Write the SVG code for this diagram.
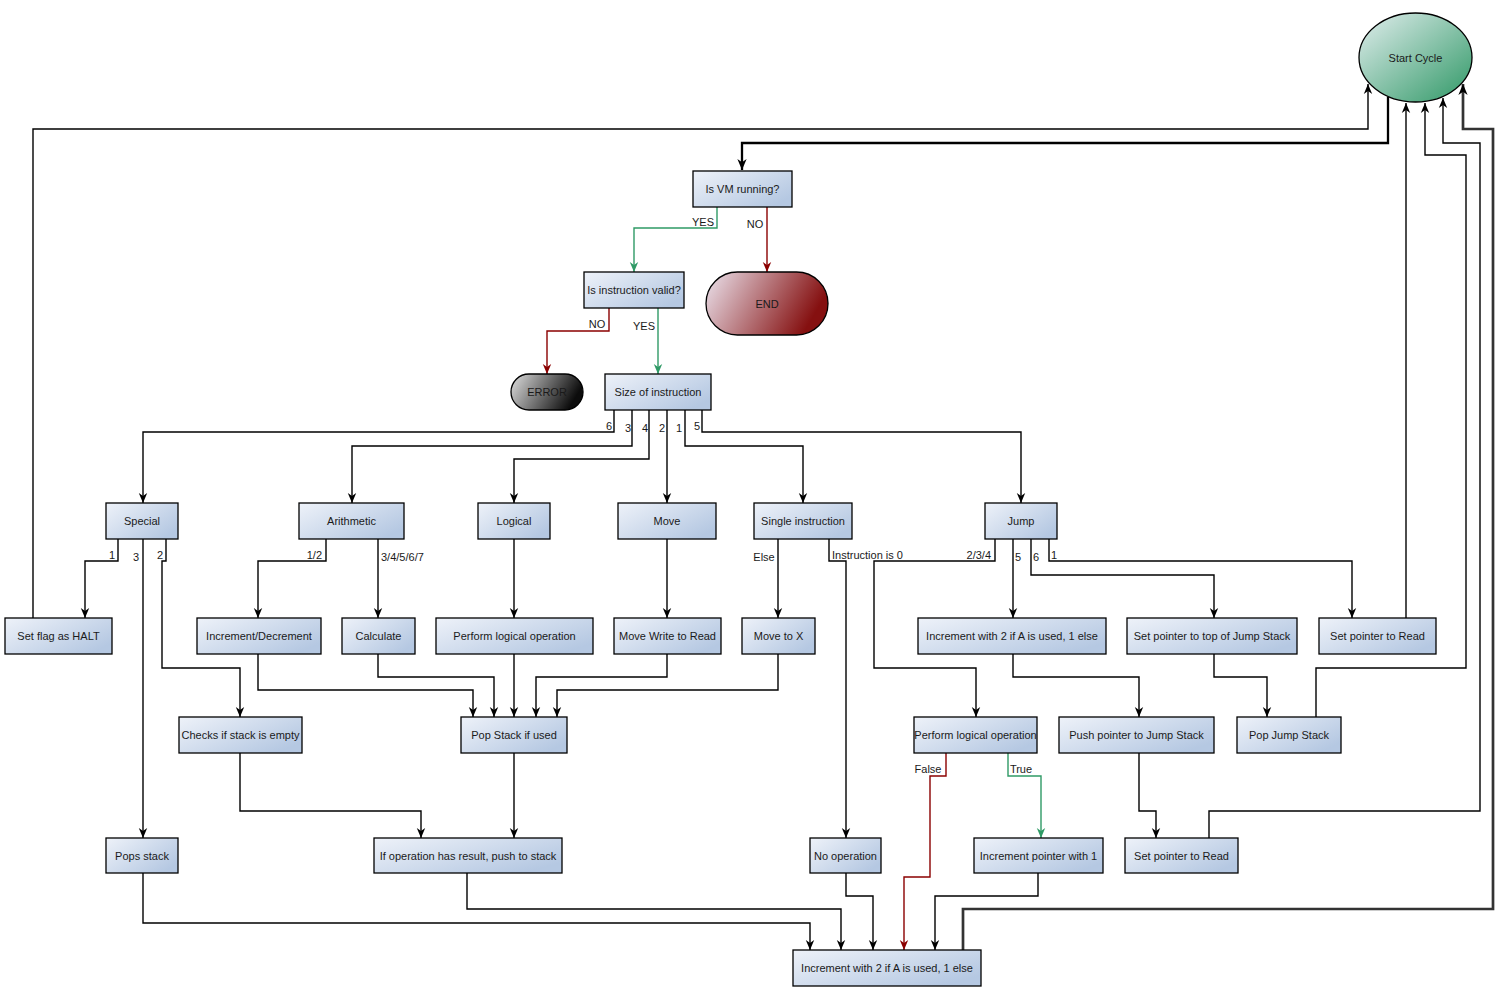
<svg xmlns="http://www.w3.org/2000/svg" width="1501" height="1001" viewBox="0 0 1501 1001">
<defs>
<linearGradient id="gBox" x1="0" y1="0" x2="1" y2="0.7">
<stop offset="0" stop-color="#eef2f9"/>
<stop offset="1" stop-color="#b5c8e2"/>
</linearGradient>
<linearGradient id="gStart" x1="0" y1="0" x2="1" y2="1">
<stop offset="0" stop-color="#e2eeee"/>
<stop offset="1" stop-color="#2f9866"/>
</linearGradient>
<linearGradient id="gEnd" x1="0" y1="0" x2="1" y2="0.3">
<stop offset="0" stop-color="#ece4ee"/>
<stop offset="1" stop-color="#851010"/>
</linearGradient>
<linearGradient id="gErr" x1="0" y1="0" x2="1" y2="0.3">
<stop offset="0" stop-color="#e0e0e0"/>
<stop offset="1" stop-color="#0c0c0c"/>
</linearGradient>
<marker id="aK" viewBox="0 0 10 10" refX="10" refY="5" markerWidth="10" markerHeight="10" markerUnits="userSpaceOnUse" orient="auto">
<path d="M0,0.8 L10,5 L0,9.2 L3,5 z" fill="#000"/>
</marker>
<marker id="aKB" viewBox="0 0 10 10" refX="10" refY="5" markerWidth="11" markerHeight="11" markerUnits="userSpaceOnUse" orient="auto">
<path d="M0,0.8 L10,5 L0,9.2 L3,5 z" fill="#000"/>
</marker>
<marker id="aG" viewBox="0 0 10 10" refX="10" refY="5" markerWidth="10" markerHeight="10" markerUnits="userSpaceOnUse" orient="auto">
<path d="M0,0.8 L10,5 L0,9.2 L3,5 z" fill="#2f9a66"/>
</marker>
<marker id="aR" viewBox="0 0 10 10" refX="10" refY="5" markerWidth="10" markerHeight="10" markerUnits="userSpaceOnUse" orient="auto">
<path d="M0,0.8 L10,5 L0,9.2 L3,5 z" fill="#8b0000"/>
</marker>
</defs>
<style>
.box{fill:url(#gBox);stroke:#000;stroke-width:1.3}
.t{font-family:"Liberation Sans",Arial,sans-serif;font-size:11px;fill:#1a1a1a;text-anchor:middle}
.l{font-family:"Liberation Sans",Arial,sans-serif;font-size:11px;fill:#1a1a1a}
.e{fill:none;stroke:#000;stroke-width:1.4;marker-end:url(#aK)}
.eb{fill:none;stroke:#000;stroke-width:2.3;marker-end:url(#aKB)}
.eb2{fill:none;stroke:#333;stroke-width:2.7;marker-end:url(#aKB)}
.eg{fill:none;stroke:#2f9a66;stroke-width:1.4;marker-end:url(#aG)}
.er{fill:none;stroke:#8b0000;stroke-width:1.4;marker-end:url(#aR)}
</style>
<rect width="1501" height="1001" fill="#fff"/>
<g id="connectors">
<path class="e" d="M33,618 V129 H1368 V84"/>
<path class="eb" d="M1388,97 V143 H742 V170"/>
<path class="e" d="M1406,618 V103"/>
<path class="e" d="M1316,717 V668 H1466 V155 H1425 V103"/>
<path class="e" d="M1209,838 V811 H1480 V143 H1443 V98"/>
<path class="eb2" d="M963,950 V909 H1493 V129 H1463 V84"/>
<path class="eg" d="M717,207 V228 H634 V272"/>
<path class="er" d="M767,207 V272"/>
<path class="er" d="M609,308 V331 H547 V374"/>
<path class="eg" d="M658,308 V374"/>
<path class="e" d="M614,410 V432 H143 V503"/>
<path class="e" d="M632,410 V446 H352 V503"/>
<path class="e" d="M649,410 V459 H514 V503"/>
<path class="e" d="M667,410 V503"/>
<path class="e" d="M685,410 V446 H803 V503"/>
<path class="e" d="M702,410 V432 H1021 V503"/>
<path class="e" d="M118,539 V561 H85 V618"/>
<path class="e" d="M143,539 V838"/>
<path class="e" d="M166,539 V561 H162 V668 H240 V717"/>
<path class="e" d="M326,539 V561 H258 V618"/>
<path class="e" d="M378,539 V618"/>
<path class="e" d="M514,539 V618"/>
<path class="e" d="M667,539 V618"/>
<path class="e" d="M778,539 V618"/>
<path class="e" d="M829,539 V561 H846 V838"/>
<path class="e" d="M995,539 V561 H874 V668 H976 V717"/>
<path class="e" d="M1013,539 V618"/>
<path class="e" d="M1031,539 V575 H1214 V618"/>
<path class="e" d="M1049,539 V561 H1352 V618"/>
<path class="e" d="M258,654 V690 H473 V717"/>
<path class="e" d="M378,654 V677 H494 V717"/>
<path class="e" d="M514,654 V717"/>
<path class="e" d="M667,654 V677 H536 V717"/>
<path class="e" d="M778,654 V690 H557 V717"/>
<path class="e" d="M240,753 V811 H421 V838"/>
<path class="e" d="M514,753 V838"/>
<path class="e" d="M1013,654 V677 H1139 V717"/>
<path class="e" d="M1214,654 V677 H1267 V717"/>
<path class="er" d="M946,753 V776 H930 V877 H904 V950"/>
<path class="eg" d="M1008,753 V776 H1041 V838"/>
<path class="e" d="M1139,753 V811 H1156 V838"/>
<path class="e" d="M143,873 V923 H810 V950"/>
<path class="e" d="M467,873 V909 H841 V950"/>
<path class="e" d="M846,873 V896 H873 V950"/>
<path class="e" d="M1038,873 V896 H935 V950"/>
<text class="l" x="714" y="226" text-anchor="end">YES</text>
<text class="l" x="755" y="228" text-anchor="middle">NO</text>
<text class="l" x="597" y="328" text-anchor="middle">NO</text>
<text class="l" x="644" y="330" text-anchor="middle">YES</text>
<text class="l" x="609" y="430" text-anchor="middle">6</text>
<text class="l" x="628" y="432" text-anchor="middle">3</text>
<text class="l" x="645" y="432" text-anchor="middle">4</text>
<text class="l" x="662" y="432" text-anchor="middle">2</text>
<text class="l" x="679" y="432" text-anchor="middle">1</text>
<text class="l" x="697" y="430" text-anchor="middle">5</text>
<text class="l" x="112" y="559" text-anchor="middle">1</text>
<text class="l" x="136" y="561" text-anchor="middle">3</text>
<text class="l" x="160" y="559" text-anchor="middle">2</text>
<text class="l" x="322" y="559" text-anchor="end">1/2</text>
<text class="l" x="381" y="561">3/4/5/6/7</text>
<text class="l" x="764" y="561" text-anchor="middle">Else</text>
<text class="l" x="832" y="559">Instruction is 0</text>
<text class="l" x="991" y="559" text-anchor="end">2/3/4</text>
<text class="l" x="1018" y="561" text-anchor="middle">5</text>
<text class="l" x="1036" y="561" text-anchor="middle">6</text>
<text class="l" x="1054" y="559" text-anchor="middle">1</text>
<text class="l" x="928" y="773" text-anchor="middle">False</text>
<text class="l" x="1021" y="773" text-anchor="middle">True</text>
</g>
<g id="start"><ellipse cx="1415.5" cy="57.5" rx="56.5" ry="44.5" fill="url(#gStart)" stroke="#000" stroke-width="1.3"/><text class="t" x="1415.5" y="61.5">Start Cycle</text></g>
<g id="vm"><rect class="box" x="693" y="171" width="99" height="36"/><text class="t" x="742.5" y="193">Is VM running?</text></g>
<g id="valid"><rect class="box" x="584" y="272" width="100" height="36"/><text class="t" x="634" y="294">Is instruction valid?</text></g>
<g id="end"><rect x="706" y="272" width="122" height="63" rx="31.5" ry="31.5" fill="url(#gEnd)" stroke="#000" stroke-width="1.3"/><text class="t" x="767" y="307.5">END</text></g>
<g id="error"><rect x="511" y="374" width="72" height="36" rx="18" ry="18" fill="url(#gErr)" stroke="#000" stroke-width="1.3"/><text class="t" x="547" y="396">ERROR</text></g>
<g id="size"><rect class="box" x="605" y="374" width="106" height="36"/><text class="t" x="658" y="396">Size of instruction</text></g>
<g id="special"><rect class="box" x="106" y="503" width="72" height="36"/><text class="t" x="142" y="525">Special</text></g>
<g id="arithmetic"><rect class="box" x="299" y="503" width="105" height="36"/><text class="t" x="351.5" y="525">Arithmetic</text></g>
<g id="logical"><rect class="box" x="478" y="503" width="72" height="36"/><text class="t" x="514" y="525">Logical</text></g>
<g id="move"><rect class="box" x="618" y="503" width="98" height="36"/><text class="t" x="667" y="525">Move</text></g>
<g id="single"><rect class="box" x="754" y="503" width="98" height="36"/><text class="t" x="803" y="525">Single instruction</text></g>
<g id="jump"><rect class="box" x="985" y="503" width="72" height="36"/><text class="t" x="1021" y="525">Jump</text></g>
<g id="halt"><rect class="box" x="5" y="618" width="107" height="36"/><text class="t" x="58.5" y="640">Set flag as HALT</text></g>
<g id="incdec"><rect class="box" x="197" y="618" width="124" height="36"/><text class="t" x="259" y="640">Increment/Decrement</text></g>
<g id="calc"><rect class="box" x="342" y="618" width="73" height="36"/><text class="t" x="378.5" y="640">Calculate</text></g>
<g id="perflog1"><rect class="box" x="436" y="618" width="157" height="36"/><text class="t" x="514.5" y="640">Perform logical operation</text></g>
<g id="mwr"><rect class="box" x="614" y="618" width="107" height="36"/><text class="t" x="667.5" y="640">Move Write to Read</text></g>
<g id="movex"><rect class="box" x="742" y="618" width="73" height="36"/><text class="t" x="778.5" y="640">Move to X</text></g>
<g id="inc2jump"><rect class="box" x="918" y="618" width="188" height="36"/><text class="t" x="1012" y="640">Increment with 2 if A is used, 1 else</text></g>
<g id="setptrtop"><rect class="box" x="1127" y="618" width="170" height="36"/><text class="t" x="1212" y="640">Set pointer to top of Jump Stack</text></g>
<g id="setptrread1"><rect class="box" x="1319" y="618" width="117" height="36"/><text class="t" x="1377.5" y="640">Set pointer to Read</text></g>
<g id="checks"><rect class="box" x="179" y="717" width="123" height="36"/><text class="t" x="240.5" y="739">Checks if stack is empty</text></g>
<g id="popstack"><rect class="box" x="461" y="717" width="106" height="36"/><text class="t" x="514" y="739">Pop Stack if used</text></g>
<g id="perflog2"><rect class="box" x="914" y="717" width="123" height="36"/><text class="t" x="975.5" y="739">Perform logical operation</text></g>
<g id="pushptr"><rect class="box" x="1059" y="717" width="155" height="36"/><text class="t" x="1136.5" y="739">Push pointer to Jump Stack</text></g>
<g id="popjump"><rect class="box" x="1237" y="717" width="104" height="36"/><text class="t" x="1289" y="739">Pop Jump Stack</text></g>
<g id="popsstack"><rect class="box" x="106" y="838" width="72" height="35"/><text class="t" x="142" y="859.5">Pops stack</text></g>
<g id="ifop"><rect class="box" x="374" y="838" width="188" height="35"/><text class="t" x="468" y="859.5">If operation has result, push to stack</text></g>
<g id="noop"><rect class="box" x="810" y="838" width="71" height="35"/><text class="t" x="845.5" y="859.5">No operation</text></g>
<g id="incptr1"><rect class="box" x="974" y="838" width="129" height="35"/><text class="t" x="1038.5" y="859.5">Increment pointer with 1</text></g>
<g id="setptrread2"><rect class="box" x="1125" y="838" width="113" height="35"/><text class="t" x="1181.5" y="859.5">Set pointer to Read</text></g>
<g id="inc2bottom"><rect class="box" x="793" y="950" width="188" height="36"/><text class="t" x="887" y="972">Increment with 2 if A is used, 1 else</text></g>
</svg>
